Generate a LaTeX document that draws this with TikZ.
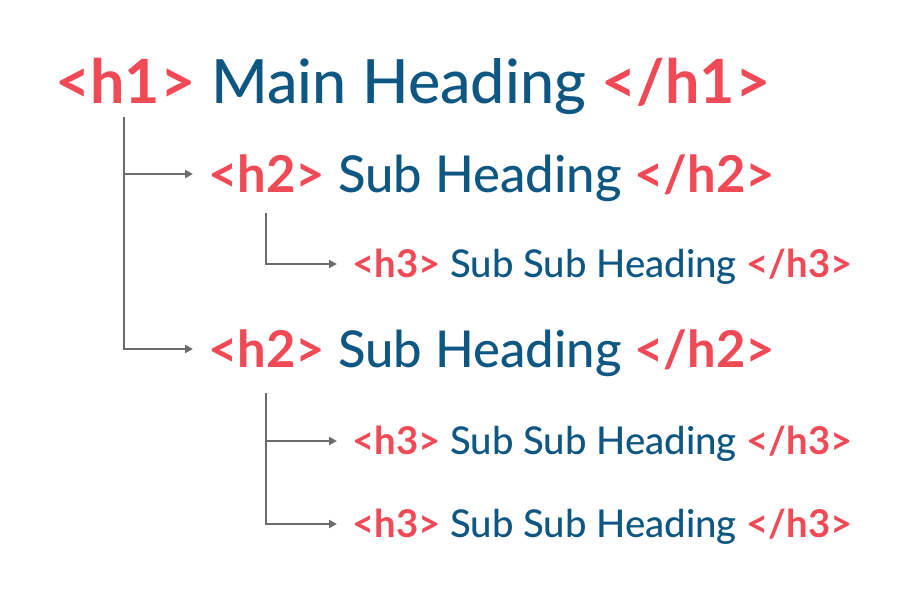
\documentclass[tikz,border=0pt]{standalone}
\usepackage{fontspec}
\setmainfont{Lato}
\newfontfamily\medfont{Lato Medium}
\usetikzlibrary{arrows.meta,positioning}

\definecolor{tagred}{HTML}{EF4A55}
\definecolor{headblue}{HTML}{0F5783}
\definecolor{linegray}{HTML}{6B6C6E}

\newcommand{\htag}[1]{{\bfseries\color{tagred}#1}}
\newcommand{\htext}[1]{{\medfont\color{headblue}#1}}

\begin{document}
\begin{tikzpicture} [ x=1pt, y=-1pt,
    heading/.style={anchor=west, inner sep=0pt, text depth=0pt},
    hone/.style={heading, text height=43.7pt, font=\fontsize{61}{61}\selectfont},
    htwo/.style={heading, text height=36.4pt, font=\fontsize{50.8}{51}\selectfont},
    hthree/.style={heading, text height=27.4pt, font=\fontsize{38.3}{38}\selectfont},
    conn/.style={draw=linegray, line width=2pt, -{Triangle[length=8pt,width=8pt]}},
    ]
    \useasboundingbox (0,0) rectangle (917,594);

    % headings
    \node[hone] (h1) at (55,82) {\htag{<h1>} \htext{Main Heading} \htag{</h1>}};
    \node[htwo] (h2a) at (208,174) {\htag{<h2>} \htext{Sub Heading} \htag{</h2>}};
    \node[hthree] (h3a) at (352,264) {\htag{<h3>} \htext{Sub Sub Heading} \htag{</h3>}};
    \node[htwo] (h2b) at (208,349) {\htag{<h2>} \htext{Sub Heading} \htag{</h2>}};
    \node[hthree] (h3b) at (352,441) {\htag{<h3>} \htext{Sub Sub Heading} \htag{</h3>}};
    \node[hthree] (h3c) at (352,524) {\htag{<h3>} \htext{Sub Sub Heading} \htag{</h3>}};

    % tree lines
    \coordinate (r1) at (124,117);
    \coordinate (r2) at (266,213);
    \coordinate (r3) at (266,393);

    \draw[conn] (r1) |- ([xshift=-15pt]h2b.west);
    \draw[conn] (r1 |- h2a.west) -- ([xshift=-15pt]h2a.west);
    \draw[conn] (r2) |- ([xshift=-15pt]h3a.west);
    \draw[conn] (r3) |- ([xshift=-15pt]h3c.west);
    \draw[conn] (r3 |- h3b.west) -- ([xshift=-15pt]h3b.west);

\end{tikzpicture}
\end{document}
